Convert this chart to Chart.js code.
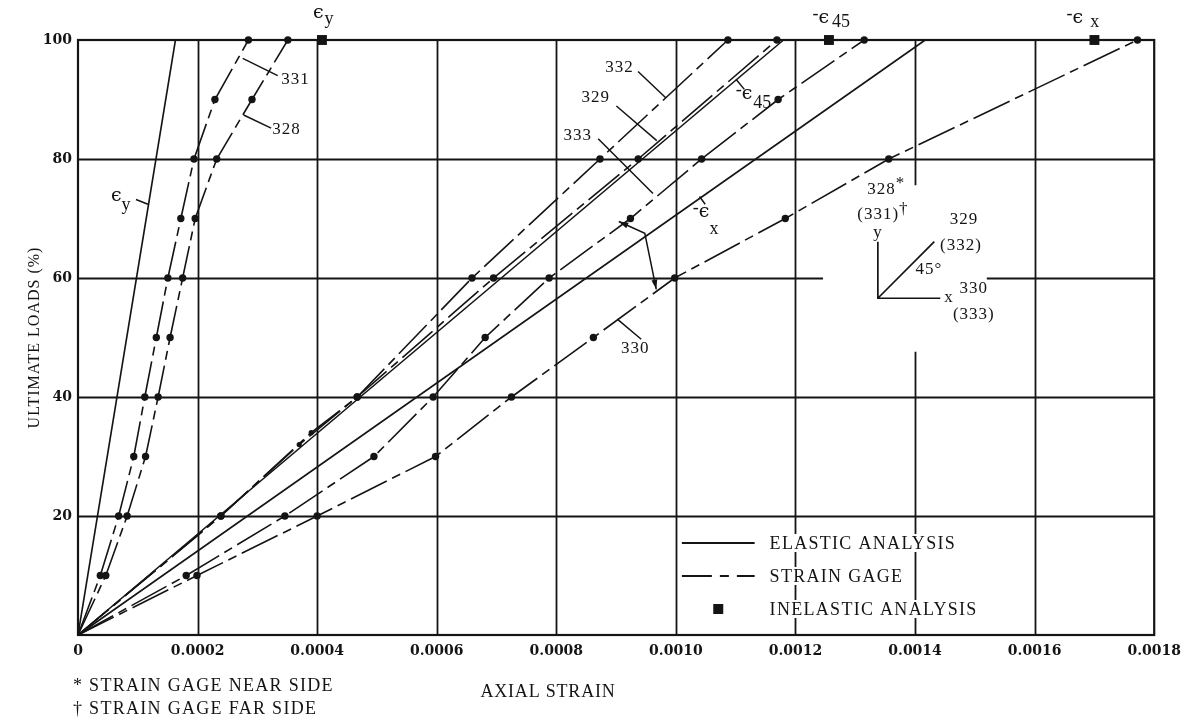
<!DOCTYPE html>
<html>
<head>
<meta charset="utf-8">
<title>Axial strain vs ultimate load</title>
<script src="https://cdn.jsdelivr.net/npm/chart.js@4/dist/chart.umd.min.js"></script>
<style>
  html, body { margin: 0; padding: 0; background: #fff; }
  #wrap { width: 1189px; height: 720px; }
</style>
</head>
<body>
<div id="wrap"><canvas id="c" width="1189" height="720"></canvas></div>
<script>
// ---- measured strains (axial strain) at load levels (% of ultimate) ----
const loads331 = [0, 10, 20, 30, 40, 50, 60, 70, 80, 90, 100];
const gage331  = [0, 0.0000373, 0.000068, 0.0000933, 0.0001117, 0.000131, 0.0001503, 0.000172, 0.000194, 0.000229, 0.000285];

const loads328 = [0, 10, 20, 30, 40, 50, 60, 70, 80, 90, 100];
const gage328  = [0, 0.0000465, 0.0000822, 0.000113, 0.000134, 0.000154, 0.000175, 0.000196, 0.000232, 0.000291, 0.000351];

const loads332 = [0, 20, 32, 40, 60, 80, 100];
const gage332  = [0, 0.000239, 0.00037, 0.000467, 0.000659, 0.000873, 0.001087];

const loads329 = [0, 20, 34, 40, 60, 80, 100];
const gage329  = [0, 0.000239, 0.00039, 0.000467, 0.000695, 0.000937, 0.001169];

const loads333 = [0, 10, 20, 30, 40, 50, 60, 70, 80, 90, 100];
const gage333  = [0, 0.000181, 0.000346, 0.000495, 0.000594, 0.000681, 0.000788, 0.000924, 0.001043, 0.001171, 0.001315];

const loads330 = [0, 10, 20, 30, 40, 50, 60, 70, 80, 100];
const gage330  = [0, 0.000199, 0.0004, 0.000598, 0.000725, 0.000862, 0.000998, 0.001183, 0.001356, 0.001772];

// ---- elastic analysis (straight lines from the origin) ----
const elasticLoads = [0, 100];
const elasticEy  = [0, 0.000163];
const elasticE45 = [0, 0.00118];
const elasticEx  = [0, 0.001417];

// ---- inelastic analysis at ultimate load ----
const inelasticStrain = [0.000408, 0.001256, 0.0017];
const inelasticLoad   = [100, 100, 100];

// ---- axes ----
const xTickValues = [0, 0.0002, 0.0004, 0.0006, 0.0008, 0.0010, 0.0012, 0.0014, 0.0016, 0.0018];
const yTickValues = [20, 40, 60, 80, 100];

// grid segments (in data units); some lines are interrupted around the notes
const gridVertical = [
  { at: 0.0002, from: 0, to: 100 }, { at: 0.0004, from: 0, to: 100 },
  { at: 0.0006, from: 0, to: 100 }, { at: 0.0008, from: 0, to: 100 },
  { at: 0.0010, from: 0, to: 100 }, { at: 0.0012, from: 0, to: 100 },
  { at: 0.0014, from: 0, to: 47.6 }, { at: 0.0014, from: 75.6, to: 100 },
  { at: 0.0016, from: 0, to: 100 }
];
const gridHorizontal = [
  { at: 20, from: 0, to: 0.0018 }, { at: 40, from: 0, to: 0.0018 },
  { at: 60, from: 0, to: 0.001246 }, { at: 60, from: 0.00152, to: 0.0018 },
  { at: 80, from: 0, to: 0.0018 }
];

const pts = (xs, ys) => xs.map((x, i) => ({ x: x, y: ys[i] }));

const INK = '#141414';
const GAGE_DASH = [40, 6, 9, 6];
const SERIF = '"Liberation Serif", "DejaVu Serif", serif';
const EPS_FONT = '19px "DejaVu Serif", serif';

function gageSet(label, xs, ys) {
  return {
    label: label, data: pts(xs, ys), showLine: true, tension: 0,
    borderColor: INK, borderWidth: 1.6, borderDash: GAGE_DASH,
    backgroundColor: INK, pointBorderWidth: 0,
    pointRadius: c => (c.raw.y === 0 ? 0 : (c.raw.y % 10 ? 2.6 : 3.7)),
    clip: false
  };
}
function elasticSet(label, xs, ys) {
  return {
    label: label, data: pts(xs, ys), showLine: true, tension: 0,
    borderColor: INK, borderWidth: 1.6, pointRadius: 0, clip: false
  };
}

// ---- annotation layout (data coordinates) ----
const tagFont = '17px ' + SERIF;
const numberTags = [
  { parts: [['331', 0]], x: 0.00034,  y: 93.4 },
  { parts: [['328', 0]], x: 0.000325, y: 84.9 },
  { parts: [['332', 0]], x: 0.000882, y: 95.3 },
  { parts: [['329', 0]], x: 0.000842, y: 90.25 },
  { parts: [['333', 0]], x: 0.000812, y: 84.0 },
  { parts: [['330', 0]], x: 0.000908, y: 48.1 },
  { parts: [['328', 0], ['*', -6]], x: 0.00132, y: 74.8 },
  { parts: [['(331)', 0], ['\u2020', -5]], x: 0.0013033, y: 70.75 }
];
// [text, dy px, dx px, font]
const strainTags = [
  { parts: [['\u03f5', 0, 0, EPS_FONT], ['y', 6.5, 1]], x: 0.000393, y: 104.6 },
  { parts: [['-', -4], ['\u03f5', 0, 0, EPS_FONT], ['45', 4.5, 3]], x: 0.0012283, y: 103.7 },
  { parts: [['-', -4], ['\u03f5', 0, 0, EPS_FONT], ['x', 4.5, 7]], x: 0.0016533, y: 103.7 },
  { parts: [['-', -4], ['\u03f5', 0, 0, EPS_FONT], ['45', 9, 1]], x: 0.0011, y: 90.9 },
  { parts: [['-', -4], ['\u03f5', 0, 0, EPS_FONT], ['x', 17, 0]], x: 0.0010283, y: 71.1 },
  { parts: [['\u03f5', 0, 0, EPS_FONT], ['y', 9, 0]], x: 0.000055, y: 73.8 }
];
const leaders = [
  [[0.0002755, 96.9], [0.000334, 94.0]],
  [[0.000277, 87.4], [0.000323, 85.2]],
  [[0.000097, 73.2], [0.000117, 72.4]],
  [[0.0009367, 94.7], [0.000983, 90.3]],
  [[0.0009005, 88.9], [0.000968, 83.1]],
  [[0.00087, 83.4], [0.0009617, 74.2]],
  [[0.000902, 53.1], [0.000942, 49.7]],
  [[0.0011005, 93.4], [0.0011145, 91.7]],
  [[0.0010395, 73.7], [0.001049, 72.4]]
];
const bracketArrow = [[0.0009045, 69.5], [0.000948, 67.5], [0.0009672, 58.1]];
// gage orientation sketch
const sketchOrigin = [0.0013378, 56.6];
const sketchYEnd = [0.0013378, 66.1];
const sketchXEnd = [0.0014422, 56.6];
const sketchDiagEnd = [0.0014322, 66.1];
const sketchTags = [
  { t: 'y', x: 0.001338, y: 67.7 },
  { t: 'x', x: 0.0014567, y: 56.8 },
  { t: '45\u00b0', x: 0.001423, y: 61.5 },
  { t: '329', x: 0.0014817, y: 69.9 },
  { t: '(332)', x: 0.0014767, y: 65.5 },
  { t: '330', x: 0.0014983, y: 58.2 },
  { t: '(333)', x: 0.0014983, y: 53.9 }
];
const legendRows = [
  { kind: 'solid',  text: 'ELASTIC ANALYSIS',   y: 15.46 },
  { kind: 'dash',   text: 'STRAIN GAGE',        y: 9.92 },
  { kind: 'square', text: 'INELASTIC ANALYSIS', y: 4.37 }
];
const legendSampleX = [0.00101, 0.0011317];
const legendTextX = 0.0011567;

const overlay = {
  id: 'overlay',
  beforeDatasetsDraw(chart) {
    const { ctx, chartArea: a, scales: { x, y } } = chart;
    ctx.save();
    ctx.strokeStyle = INK;
    ctx.lineWidth = 1.8;
    ctx.beginPath();
    gridVertical.forEach(g => {
      const X = Math.round(x.getPixelForValue(g.at)) + 0.5;
      ctx.moveTo(X, y.getPixelForValue(g.from));
      ctx.lineTo(X, y.getPixelForValue(g.to));
    });
    gridHorizontal.forEach(g => {
      const Y = Math.round(y.getPixelForValue(g.at)) + 0.5;
      ctx.moveTo(x.getPixelForValue(g.from), Y);
      ctx.lineTo(x.getPixelForValue(g.to), Y);
    });
    ctx.stroke();
    ctx.lineWidth = 2.2;
    ctx.strokeRect(a.left, a.top, a.right - a.left, a.bottom - a.top);
    ctx.restore();
  },
  afterDatasetsDraw(chart) {
    const { ctx, chartArea: a, scales: { x, y } } = chart;
    const P = (v) => [x.getPixelForValue(v[0]), y.getPixelForValue(v[1])];
    ctx.save();
    ctx.fillStyle = INK;
    ctx.strokeStyle = INK;
    ctx.textBaseline = 'middle';

    const drawParts = (parts, X, Y, font) => {
      ctx.textAlign = 'left';
      let cx = X;
      parts.forEach(p => {
        ctx.font = p[3] || font;
        cx += (p[2] || 0);
        ctx.fillText(p[0], cx, Y + p[1]);
        cx += ctx.measureText(p[0]).width;
      });
    };

    // leader lines
    ctx.lineWidth = 1.5;
    ctx.beginPath();
    leaders.forEach(l => {
      const p0 = P(l[0]), p1 = P(l[1]);
      ctx.moveTo(p0[0], p0[1]); ctx.lineTo(p1[0], p1[1]);
    });
    ctx.stroke();

    // bracket arrow between the x-direction curves
    const b = bracketArrow.map(P);
    ctx.beginPath();
    ctx.moveTo(b[0][0], b[0][1]); ctx.lineTo(b[1][0], b[1][1]); ctx.lineTo(b[2][0], b[2][1]);
    ctx.stroke();
    const head = (tip, from) => {
      const ang = Math.atan2(tip[1] - from[1], tip[0] - from[0]);
      const L = 10, W = 0.3;
      ctx.beginPath();
      ctx.moveTo(tip[0], tip[1]);
      ctx.lineTo(tip[0] - L * Math.cos(ang - W), tip[1] - L * Math.sin(ang - W));
      ctx.lineTo(tip[0] - L * Math.cos(ang + W), tip[1] - L * Math.sin(ang + W));
      ctx.closePath();
      ctx.fill();
    };
    head(b[0], b[1]);
    head(b[2], b[1]);

    // curve numbers
    ctx.letterSpacing = '1px';
    numberTags.forEach(t => drawParts(t.parts, x.getPixelForValue(t.x), y.getPixelForValue(t.y), tagFont));
    ctx.letterSpacing = '0px';
    strainTags.forEach(t => drawParts(t.parts, x.getPixelForValue(t.x), y.getPixelForValue(t.y), '18px ' + SERIF));

    // gage orientation sketch
    const o = P(sketchOrigin), ye = P(sketchYEnd), xe = P(sketchXEnd), de = P(sketchDiagEnd);
    ctx.lineWidth = 1.7;
    ctx.beginPath();
    ctx.moveTo(ye[0], ye[1]); ctx.lineTo(o[0], o[1]); ctx.lineTo(xe[0], xe[1]);
    ctx.moveTo(o[0], o[1]); ctx.lineTo(de[0], de[1]);
    ctx.stroke();
    ctx.font = '17px ' + SERIF;
    ctx.textAlign = 'center';
    ctx.letterSpacing = '1px';
    sketchTags.forEach(t => ctx.fillText(t.t, x.getPixelForValue(t.x), y.getPixelForValue(t.y)));

    // key
    ctx.font = '18px ' + SERIF;
    ctx.letterSpacing = '1.3px';
    legendRows.forEach(r => {
      const Y = y.getPixelForValue(r.y);
      const x0 = x.getPixelForValue(legendSampleX[0]), x1 = x.getPixelForValue(legendSampleX[1]);
      const tx = x.getPixelForValue(legendTextX);
      const w = ctx.measureText(r.text).width;
      ctx.fillStyle = '#fff';
      ctx.fillRect(tx - 3, Y - 9, w + 6, 18);
      ctx.fillStyle = INK;
      ctx.textAlign = 'left';
      ctx.fillText(r.text, tx, Y + 1);
      if (r.kind === 'square') {
        const cx = (x0 + x1) / 2;
        ctx.fillRect(cx - 5, Y - 5, 10, 10);
      } else {
        ctx.lineWidth = 1.8;
        ctx.setLineDash(r.kind === 'dash' ? [30, 8, 9, 8] : []);
        ctx.beginPath(); ctx.moveTo(x0, Y); ctx.lineTo(x1, Y); ctx.stroke();
        ctx.setLineDash([]);
      }
    });

    // axis titles and footnotes
    ctx.font = '18px ' + SERIF;
    ctx.letterSpacing = '0.8px';
    ctx.textAlign = 'center';
    ctx.fillText('AXIAL STRAIN', a.left + 470, 692);
    ctx.letterSpacing = '1.3px';
    ctx.textAlign = 'left';
    ctx.fillText('* STRAIN GAGE NEAR SIDE', a.left - 5, 686);
    ctx.fillText('\u2020 STRAIN GAGE FAR SIDE', a.left - 5, 709);

    ctx.save();
    ctx.translate(35, (a.top + a.bottom) / 2);
    ctx.rotate(-Math.PI / 2);
    ctx.textAlign = 'center';
    ctx.font = '16px ' + SERIF;
    ctx.letterSpacing = '1px';
    ctx.fillText('ULTIMATE LOADS (%)', 0, 0);
    ctx.restore();

    ctx.restore();
  }
};

new Chart(document.getElementById('c'), {
  type: 'scatter',
  data: {
    datasets: [
      elasticSet('\u03f5y elastic', elasticEy, elasticLoads),
      elasticSet('-\u03f545 elastic', elasticE45, elasticLoads),
      elasticSet('-\u03f5x elastic', elasticEx, elasticLoads),
      gageSet('331', gage331, loads331),
      gageSet('328', gage328, loads328),
      gageSet('332', gage332, loads332),
      gageSet('329', gage329, loads329),
      gageSet('333', gage333, loads333),
      gageSet('330', gage330, loads330),
      {
        label: 'inelastic', data: pts(inelasticStrain, inelasticLoad), showLine: false,
        pointStyle: 'rect', pointRadius: 7, backgroundColor: INK, borderColor: INK,
        pointBorderWidth: 0, clip: false
      }
    ]
  },
  options: {
    responsive: false,
    animation: false,
    devicePixelRatio: 1,
    layout: { padding: { top: 40, right: 32, left: 0, bottom: 0 } },
    plugins: { legend: { display: false }, tooltip: { enabled: false } },
    scales: {
      x: {
        type: 'linear', min: 0, max: 0.0018,
        afterFit: s => { s.height = 85; },
        afterBuildTicks: s => { s.ticks = xTickValues.map(v => ({ value: v })); },
        grid: { display: false, drawTicks: false },
        border: { display: false },
        ticks: {
          autoSkip: false, maxRotation: 0, padding: 8, color: INK,
          font: { family: '"DejaVu Serif", serif', weight: 'bold', size: 14 },
          callback: v => (v === 0 ? '0' : v.toFixed(4))
        }
      },
      y: {
        type: 'linear', min: 0, max: 100,
        afterFit: s => { s.width = 78; },
        afterBuildTicks: s => { s.ticks = yTickValues.map(v => ({ value: v })); },
        grid: { display: false, drawTicks: false },
        border: { display: false },
        ticks: {
          autoSkip: false, padding: 6, color: INK,
          font: { family: '"DejaVu Serif", serif', weight: 'bold', size: 14 },
          callback: v => String(v)
        }
      }
    }
  },
  plugins: [overlay]
});
</script>
</body>
</html>
